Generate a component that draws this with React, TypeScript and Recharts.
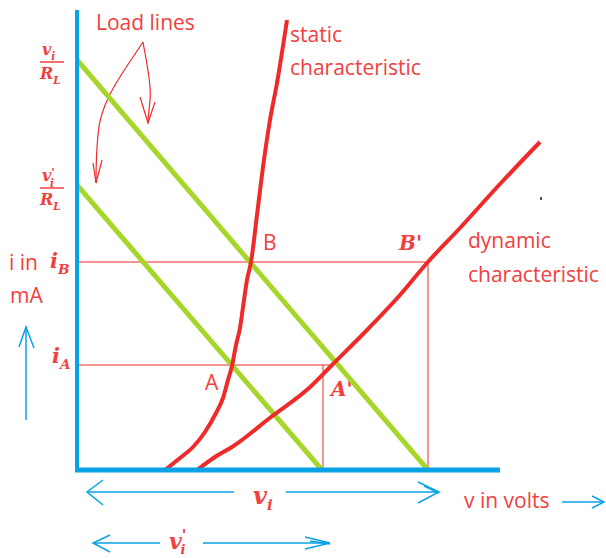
import React from "react";
import {
  ComposedChart,
  Line,
  XAxis,
  YAxis,
  ReferenceLine,
  Customized,
} from "recharts";

// Curves in chart units (x: volts, y: mA)
const loadLineVi = [
  { x: 0, y: 41 },
  { x: 35.1, y: 0 },
];
const loadLineViPrime = [
  { x: 0, y: 28.5 },
  { x: 24.5, y: 0 },
];
const staticChar = [
  { x: 8.8, y: 0 },
  { x: 10.3, y: 1.2 },
  { x: 11.6, y: 2.3 },
  { x: 12.8, y: 3.8 },
  { x: 13.9, y: 5.7 },
  { x: 14.6, y: 7.2 },
  { x: 15.1, y: 9 },
  { x: 15.5, y: 10.4 },
  { x: 15.9, y: 12.5 },
  { x: 16.3, y: 14.2 },
  { x: 16.7, y: 17 },
  { x: 17, y: 19 },
  { x: 17.4, y: 20.8 },
  { x: 18, y: 25.5 },
  { x: 18.6, y: 30.3 },
  { x: 19.3, y: 35 },
  { x: 20, y: 38.7 },
  { x: 21, y: 45 },
];
const dynamicChar = [
  { x: 12, y: 0 },
  { x: 13.8, y: 1.3 },
  { x: 15.5, y: 2.3 },
  { x: 19.4, y: 5.3 },
  { x: 23.2, y: 8.2 },
  { x: 25.5, y: 10.5 },
  { x: 29, y: 14 },
  { x: 32.3, y: 17.5 },
  { x: 35, y: 20.7 },
  { x: 38.3, y: 24.2 },
  { x: 42.3, y: 28.6 },
  { x: 46.3, y: 32.8 },
];

// operating points
const iA = 10.5;
const iB = 20.8;
const vA = 24.6;
const vAend = 25.3;
const vB = 35.1;

const RED = "#ee2a2a";
const TXT = "#f04040";
const GREEN = "#a6d62a";
const BLUE = "#0aa2e6";
const SANS = "'Open Sans', sans-serif";
const SERIF = "'DejaVu Serif', serif";

function Sub({ base, sub, x, y, size = 19, prime = false }: any) {
  return (
    <text x={x} y={y} fill={TXT} fontFamily={SERIF} fontWeight="bold" fontStyle="italic" fontSize={size}>
      {base}
      {prime ? <tspan fontSize={size * 0.7} dy={-size * 0.3}>'</tspan> : null}
      <tspan fontSize={size * 0.65} dy={prime ? size * 0.65 : size * 0.3} dx={prime ? -size * 0.3 : 0}>
        {sub}
      </tspan>
    </text>
  );
}

function Annotations() {
  return (
    <g>
      {/* text labels */}
      <g fill={TXT} fontFamily={SANS} fontSize={21}>
        <text x={96} y={30}>Load lines</text>
        <text x={290} y={42}>static</text>
        <text x={290} y={75}>characteristic</text>
        <text x={468} y={248}>dynamic</text>
        <text x={468} y={282}>characteristic</text>
        <text x={263} y={250}>B</text>
        <text x={205} y={390}>A</text>
        <text x={9} y={270}>i in</text>
        <text x={10} y={303}>mA</text>
        <text x={464} y={508}>v in volts</text>
      </g>
      <text x={399} y={250} fill={TXT} fontFamily={SERIF} fontWeight="bold" fontStyle="italic" fontSize={20}>B'</text>
      <text x={331} y={396} fill={TXT} fontFamily={SERIF} fontWeight="bold" fontStyle="italic" fontSize={20}>A'</text>
      <Sub base="i" sub="B" x={50} y={268} size={21} />
      <Sub base="i" sub="A" x={52} y={363} size={21} />
      {/* fractions */}
      <Sub base="v" sub="i" x={42} y={55} size={16} />
      <line x1={40} y1={62} x2={64} y2={62} stroke={TXT} strokeWidth={1.5} />
      <Sub base="R" sub="L" x={40} y={79} size={16} />
      <Sub base="v" sub="i" x={42} y={181} size={16} prime />
      <line x1={40} y1={188} x2={64} y2={188} stroke={TXT} strokeWidth={1.5} />
      <Sub base="R" sub="L" x={40} y={205} size={16} />
      {/* hand-drawn pointer arrows */}
      <g stroke={RED} strokeWidth={1.2} fill="none">
        <path d="M143 42 C 125 70, 100 100, 98 135 C 96 155, 96 170, 96 183" />
        <path d="M93 163 L96 183 L102 160" />
        <path d="M143 42 C 146 60, 152 85, 150 100 C 149 110, 148 118, 148 123" />
        <path d="M140 97 L148 123 L155 102" />
      </g>
      {/* blue arrows */}
      <g stroke={BLUE} strokeWidth={1.5} fill="none">
        <path d="M26 420 L26 327" />
        <path d="M19 347 L26 327 L34 348" />
        <path d="M87 492 L234 492 M286 492 L439 492" />
        <path d="M103 480 L87 492 L103 505" />
        <path d="M418 482 L439 492 L418 503 M424 486 L439 493" />
        <path d="M562 502 L604 502" />
        <path d="M592 496 L604 502 L592 508" />
        <path d="M93 543 L160 543 M203 543 L330 543" />
        <path d="M110 535 L93 543 L110 552" />
        <path d="M305 537 L330 543 L305 549 M310 541 L330 544" />
      </g>
      <text x={253} y={504} fill={TXT} fontFamily={SERIF} fontWeight="bold" fontStyle="italic" fontSize={24}>
        v<tspan fontSize={15} dy={6}>i</tspan>
      </text>
      <text x={169} y={549} fill={TXT} fontFamily={SERIF} fontWeight="bold" fontStyle="italic" fontSize={22}>
        v<tspan fontSize={15} dy={-9}>'</tspan><tspan fontSize={13} dx={-6} dy={14}>i</tspan>
      </text>
      <rect x={540} y={197} width={2} height={3} fill="#555" />
    </g>
  );
}

export default function App() {
  return (
    <div style={{ position: "absolute", left: 0, top: 0, background: "#fff" }}>
      <ComposedChart
        width={606}
        height={558}
        margin={{ top: 10, left: 77, right: 59, bottom: 88 }}
      >
        <XAxis type="number" dataKey="x" domain={[0, 47]} hide allowDataOverflow />
        <YAxis type="number" dataKey="y" domain={[0, 46]} hide allowDataOverflow />
        <ReferenceLine segment={[{ x: 0, y: iB }, { x: vB, y: iB }]} stroke={RED} strokeWidth={1} />
        <ReferenceLine segment={[{ x: vB, y: 0 }, { x: vB, y: iB }]} stroke={RED} strokeWidth={1} />
        <ReferenceLine segment={[{ x: 0, y: iA }, { x: vAend, y: iA }]} stroke={RED} strokeWidth={1} />
        <ReferenceLine segment={[{ x: vA, y: 0 }, { x: vA, y: iA }]} stroke={RED} strokeWidth={1} />
        <Line data={loadLineVi} dataKey="y" type="linear" stroke={GREEN} strokeWidth={5} dot={false} isAnimationActive={false} />
        <Line data={loadLineViPrime} dataKey="y" type="linear" stroke={GREEN} strokeWidth={5} dot={false} isAnimationActive={false} />
        <Line data={staticChar} dataKey="y" type="monotone" stroke={RED} strokeWidth={4} dot={false} isAnimationActive={false} />
        <Line data={dynamicChar} dataKey="y" type="monotone" stroke={RED} strokeWidth={4} dot={false} isAnimationActive={false} />
        <ReferenceLine segment={[{ x: 0, y: 0 }, { x: 0, y: 46 }]} stroke={BLUE} strokeWidth={4} ifOverflow="visible" />
        <ReferenceLine segment={[{ x: -0.2, y: 0 }, { x: 42.3, y: 0 }]} stroke={BLUE} strokeWidth={5} ifOverflow="visible" />
        <Customized component={Annotations} />
      </ComposedChart>
    </div>
  );
}
